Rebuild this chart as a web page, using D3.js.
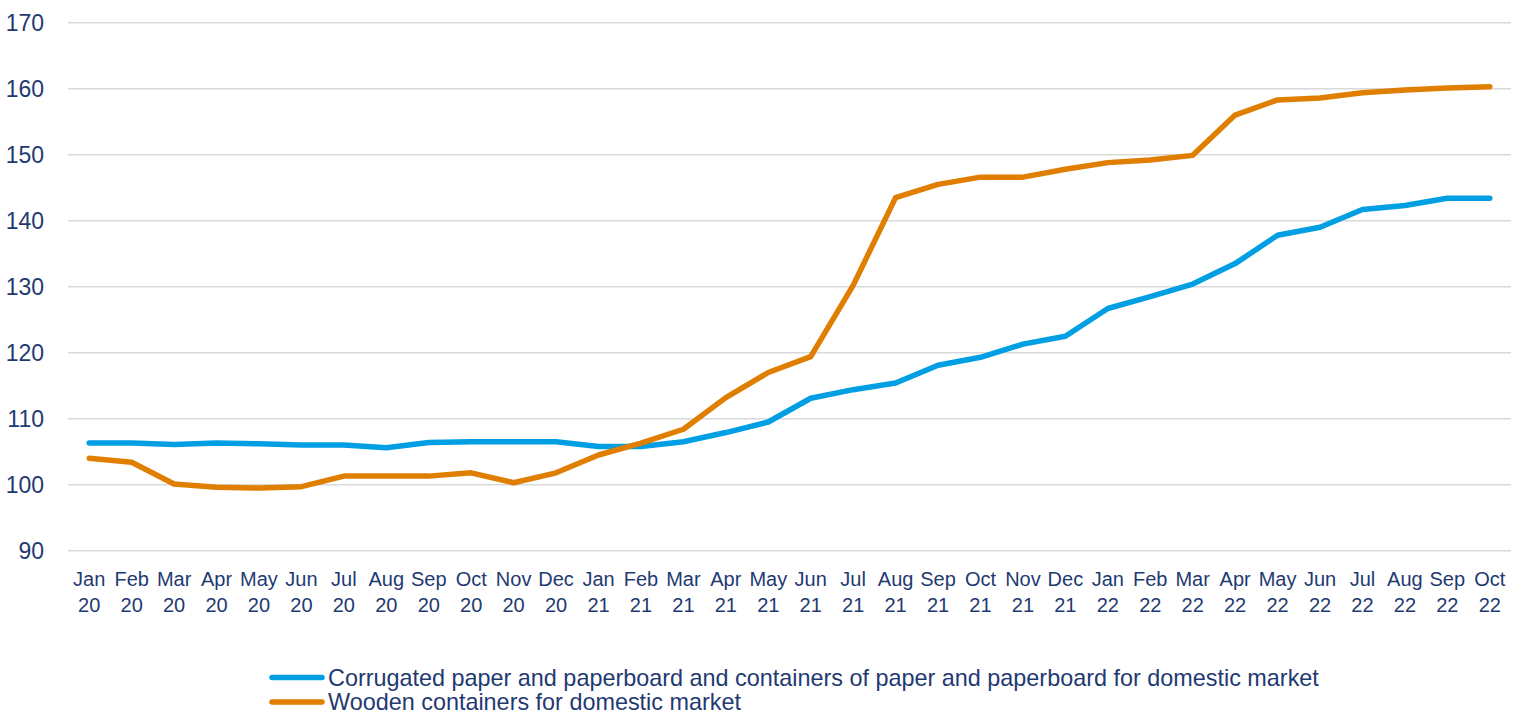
<!DOCTYPE html>
<html>
<head>
<meta charset="utf-8">
<script src="https://cdn.jsdelivr.net/npm/d3@7"></script>
<style>
  html, body { margin: 0; padding: 0; background: #fff; }
  svg { display: block; }
  text { font-family: Arial, "Liberation Sans", sans-serif; fill: #1f3a72; }
</style>
</head>
<body>
<svg id="chart" width="1528" height="715"></svg>
<script>
const months = ["Jan","Feb","Mar","Apr","May","Jun","Jul","Aug","Sep","Oct","Nov","Dec",
                "Jan","Feb","Mar","Apr","May","Jun","Jul","Aug","Sep","Oct","Nov","Dec",
                "Jan","Feb","Mar","Apr","May","Jun","Jul","Aug","Sep","Oct"];
const years = ["20","20","20","20","20","20","20","20","20","20","20","20",
               "21","21","21","21","21","21","21","21","21","21","21","21",
               "22","22","22","22","22","22","22","22","22","22"];
const categories = months.map((m, i) => m + " " + years[i]);

const corrugated = [106.3,106.3,106.1,106.3,106.2,106.0,106.0,105.6,106.4,106.5,106.5,106.5,
                    105.8,105.8,106.5,107.9,109.5,113.1,114.4,115.4,118.1,119.3,121.3,122.5,
                    126.7,128.5,130.4,133.5,137.8,139.0,141.7,142.3,143.4,143.4];
const wooden = [104.0,103.4,100.1,99.6,99.5,99.7,101.3,101.3,101.3,101.8,100.3,101.8,
                104.5,106.3,108.4,113.2,117.0,119.4,130.2,143.5,145.5,146.6,146.6,147.8,
                148.8,149.2,149.9,156.0,158.3,158.6,159.4,159.8,160.1,160.3];
const yTicks = [90,100,110,120,130,140,150,160,170];
const seriesNames = ["Corrugated paper and paperboard and containers of paper and paperboard for domestic market",
                     "Wooden containers for domestic market"];
const colors = ["#009fe3", "#e07e00"];

const svg = d3.select("#chart");
const x = d3.scaleBand().domain(categories).range([68, 1511]).padding(0);
const y = d3.scaleLinear().domain([90, 170]).range([550.7, 22.7]);

// gridlines
svg.append("g").selectAll("line").data(yTicks).join("line")
  .attr("x1", 68).attr("x2", 1511)
  .attr("y1", d => y(d)).attr("y2", d => y(d))
  .attr("stroke", "#d9d9d9").attr("stroke-width", 1.5);

// y labels
svg.append("g").selectAll("text").data(yTicks).join("text")
  .attr("x", 44).attr("y", d => y(d) + 8)
  .attr("text-anchor", "end").attr("font-size", 23)
  .text(d => d);

// x labels
const xl = svg.append("g").selectAll("text").data(categories).join("text")
  .attr("text-anchor", "middle").attr("font-size", 20);
xl.append("tspan").attr("x", d => x(d) + x.bandwidth() / 2).attr("y", 586)
  .text((d, i) => months[i]);
xl.append("tspan").attr("x", d => x(d) + x.bandwidth() / 2).attr("y", 612)
  .text((d, i) => years[i]);

// lines
const line = d3.line()
  .x((d, i) => x(categories[i]) + x.bandwidth() / 2)
  .y(d => y(d));
[corrugated, wooden].forEach((s, k) => {
  svg.append("path").datum(s)
    .attr("d", line)
    .attr("fill", "none")
    .attr("stroke", colors[k])
    .attr("stroke-width", 5.5)
    .attr("stroke-linejoin", "round")
    .attr("stroke-linecap", "round");
});

// legend
const leg = svg.append("g");
seriesNames.forEach((name, k) => {
  const cy = 677.5 + k * 24.5;
  leg.append("line").attr("x1", 272).attr("x2", 322).attr("y1", cy).attr("y2", cy)
    .attr("stroke", colors[k]).attr("stroke-width", 5.5).attr("stroke-linecap", "round");
  leg.append("text").attr("x", 328).attr("y", cy + 8).attr("font-size", 23.4).text(name);
});
</script>
</body>
</html>
